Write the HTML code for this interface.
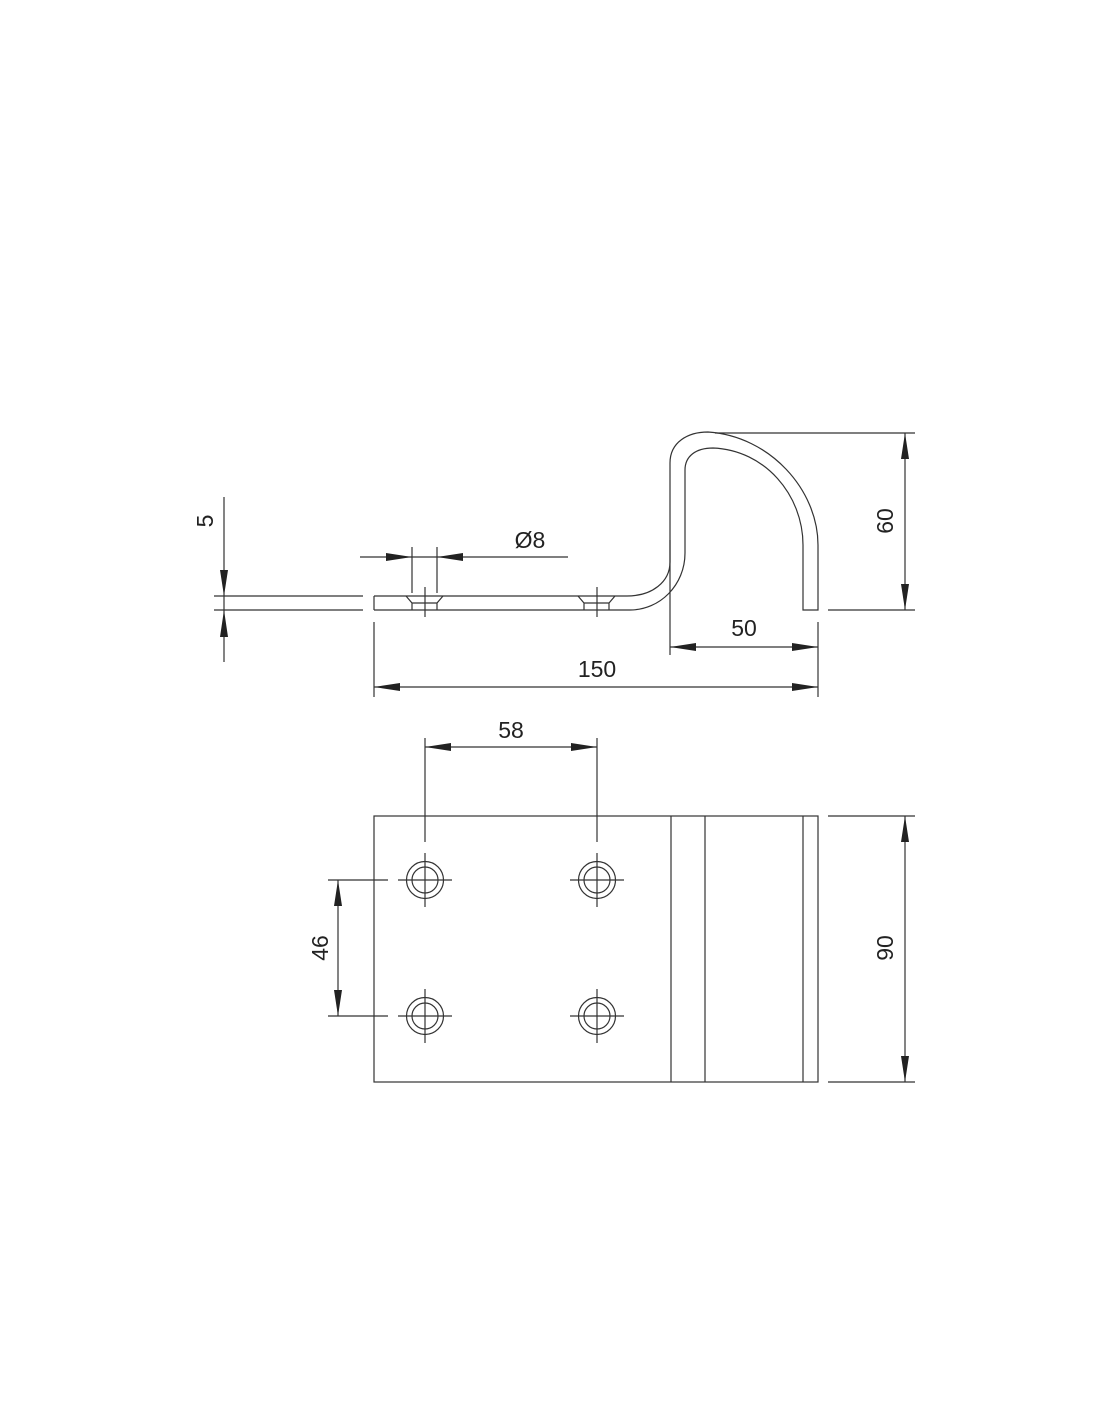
<!DOCTYPE html>
<html><head><meta charset="utf-8"><style>
html,body{margin:0;padding:0;background:#fff;}
svg{display:block;}
text{font-family:"Liberation Sans",sans-serif;font-size:23px;fill:#222;}
</style></head><body>
<svg width="1100" height="1422" viewBox="0 0 1100 1422" xmlns="http://www.w3.org/2000/svg">
<g fill="none" stroke="#333" stroke-width="1.2">
<line x1="214" y1="596" x2="363" y2="596"/>
<line x1="214" y1="610" x2="363" y2="610"/>
<line x1="374" y1="596" x2="374" y2="610"/>
<path d="M374,596 H627 C652,596 670,582 670,562 V463 C670,442 688,432 708,432 C770,436 818,490 818,545 V610 H803 V545 C803,495 765,450 713,448 C696,448 685,456 685,470 V553 C685,585 660,610 630,610 H374"/>
<path d="M406,596 L412,603 H437 L443,596 M412,603 V610 M437,603 V610"/>
<path d="M578,596 L584,603 H609 L615,596 M584,603 V610 M609,603 V610"/>
<line x1="425" y1="587" x2="425" y2="617"/>
<line x1="597" y1="587" x2="597" y2="617"/>
<line x1="224" y1="497" x2="224" y2="662"/>
<line x1="360" y1="557" x2="568" y2="557"/>
<line x1="412" y1="547" x2="412" y2="593"/>
<line x1="437" y1="547" x2="437" y2="593"/>
<line x1="905" y1="433" x2="905" y2="610"/>
<line x1="715" y1="433" x2="915" y2="433"/>
<line x1="828" y1="610" x2="915" y2="610"/>
<line x1="670" y1="647" x2="818" y2="647"/>
<line x1="670" y1="540" x2="670" y2="655"/>
<line x1="818" y1="622" x2="818" y2="697"/>
<line x1="374" y1="687" x2="818" y2="687"/>
<line x1="374" y1="622" x2="374" y2="697"/>
<rect x="374" y="816" width="444" height="266"/>
<line x1="671" y1="816" x2="671" y2="1082"/>
<line x1="705" y1="816" x2="705" y2="1082"/>
<line x1="803" y1="816" x2="803" y2="1082"/>
<line x1="425" y1="747" x2="597" y2="747"/>
<line x1="425" y1="738" x2="425" y2="842"/>
<line x1="597" y1="738" x2="597" y2="842"/>
<line x1="338" y1="880" x2="338" y2="1016"/>
<line x1="328" y1="880" x2="388" y2="880"/>
<line x1="328" y1="1016" x2="388" y2="1016"/>
<line x1="905" y1="816" x2="905" y2="1082"/>
<line x1="828" y1="816" x2="915" y2="816"/>
<line x1="828" y1="1082" x2="915" y2="1082"/>
<g id="h">
<circle cx="425" cy="880" r="18.5"/><circle cx="425" cy="880" r="13"/>
<line x1="398" y1="880" x2="452" y2="880"/><line x1="425" y1="853" x2="425" y2="907"/>
</g>
<use href="#h" x="172" y="0"/>
<use href="#h" x="0" y="136"/>
<use href="#h" x="172" y="136"/>
</g>
<g fill="#222">
<polygon points="224,596 220,570 228,570"/>
<polygon points="224,610 220,637 228,637"/>
<polygon points="412,557 386,553 386,561"/>
<polygon points="437,557 463,553 463,561"/>
<polygon points="905,433 901,459 909,459"/>
<polygon points="905,610 901,584 909,584"/>
<polygon points="670,647 696,643 696,651"/>
<polygon points="818,647 792,643 792,651"/>
<polygon points="374,687 400,683 400,691"/>
<polygon points="818,687 792,683 792,691"/>
<polygon points="425,747 451,743 451,751"/>
<polygon points="597,747 571,743 571,751"/>
<polygon points="338,880 334,906 342,906"/>
<polygon points="338,1016 334,990 342,990"/>
<polygon points="905,816 901,842 909,842"/>
<polygon points="905,1082 901,1056 909,1056"/>
</g>
<text x="530" y="548" text-anchor="middle">Ø8</text>
<text x="744" y="636" text-anchor="middle">50</text>
<text x="597" y="677" text-anchor="middle">150</text>
<text x="511" y="738" text-anchor="middle">58</text>
<text transform="translate(213,521) rotate(-90)" text-anchor="middle">5</text>
<text transform="translate(893,521) rotate(-90)" text-anchor="middle">60</text>
<text transform="translate(328,948) rotate(-90)" text-anchor="middle">46</text>
<text transform="translate(893,948) rotate(-90)" text-anchor="middle">90</text>
</svg>
</body></html>
